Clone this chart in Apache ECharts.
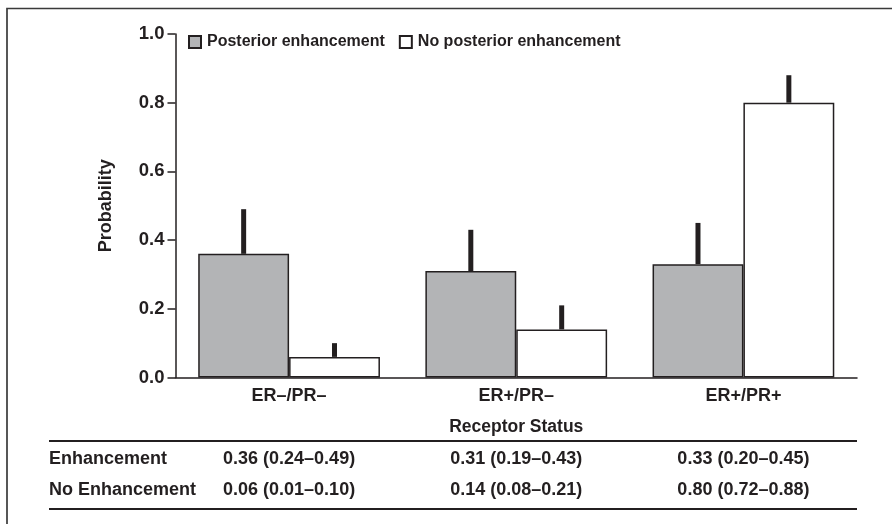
<!DOCTYPE html>
<html>
<head>
<meta charset="utf-8">
<script src="https://cdn.jsdelivr.net/npm/echarts@6/dist/echarts.min.js"></script>
<style>html,body{margin:0;padding:0;background:#fff;}#c{width:892px;height:524px;}</style>
</head>
<body>
<div id="c"></div>
<script>
const categories = ['ER\u2013/PR\u2013', 'ER+/PR\u2013', 'ER+/PR+'];
const seriesNames = ['Posterior enhancement', 'No posterior enhancement'];
const enhValues = [0.36, 0.31, 0.33];
const enhLower = [0.24, 0.19, 0.20];
const enhUpper = [0.49, 0.43, 0.45];
const noEnhValues = [0.06, 0.14, 0.80];
const noEnhLower = [0.01, 0.08, 0.72];
const noEnhUpper = [0.10, 0.21, 0.88];
const rowLabels = ['Enhancement', 'No Enhancement'];
const yTicks = [0, 0.2, 0.4, 0.6, 0.8, 1.0];

const FONT = '"Liberation Sans", Arial, Helvetica, sans-serif';
const INK = '#231f20';
const GRAY = '#b3b4b6';

const chart = echarts.init(document.getElementById('c'), null, {renderer: 'canvas'});

function errSeries(values, upper, sign) {
  return {
    type: 'custom',
    z: 5,
    silent: true,
    data: values.map((v, i) => [i, v, upper[i]]),
    renderItem: function (params, api) {
      const base = api.coord([api.value(0), api.value(1)]);
      const top = api.coord([api.value(0), api.value(2)]);
      const band = api.size([1, 0])[0];
      const cx = base[0] + sign * band * 0.2;
      return {
        type: 'rect',
        shape: {x: cx - 2.5, y: top[1], width: 5, height: base[1] - top[1]},
        style: {fill: INK}
      };
    }
  };
}

const fmt = (v, l, u) => v.toFixed(2) + ' (' + l.toFixed(2) + '\u2013' + u.toFixed(2) + ')';

chart.setOption({
  animation: false,
  textStyle: {fontFamily: FONT},
  grid: {left: 175.5, right: 35, top: 34, bottom: 146.5, containLabel: false},
  legend: {
    left: 183, top: 29,
    itemWidth: 12, itemHeight: 12, itemGap: 14,
    icon: 'rect',
    selectedMode: false,
    data: seriesNames,
    textStyle: {fontFamily: FONT, fontWeight: 'bold', fontSize: 16, color: INK, padding: [0, 0, 0, 1]}
  },
  xAxis: {
    type: 'category',
    data: categories,
    name: 'Receptor Status',
    nameLocation: 'middle',
    nameGap: 41,
    nameTextStyle: {fontFamily: FONT, fontWeight: 'bold', fontSize: 17.5, color: INK},
    axisLine: {lineStyle: {color: INK, width: 1.5}},
    axisTick: {show: false},
    axisLabel: {fontFamily: FONT, fontWeight: 'bold', fontSize: 18, color: INK, margin: 10},
    splitLine: {show: false}
  },
  yAxis: {
    type: 'value',
    min: 0, max: 1.0, interval: 0.2,
    name: 'Probability',
    nameLocation: 'middle',
    nameGap: 60,
    nameRotate: 90,
    nameTextStyle: {fontFamily: FONT, fontWeight: 'bold', fontSize: 18, color: INK},
    axisLine: {show: true, lineStyle: {color: INK, width: 1.5}},
    axisTick: {show: true, length: 8, lineStyle: {color: INK, width: 1.5}},
    axisLabel: {fontFamily: FONT, fontWeight: 'bold', fontSize: 18.5, color: INK, margin: 11,
      formatter: v => v.toFixed(1)},
    splitLine: {show: false}
  },
  series: [
    {
      name: seriesNames[0], type: 'bar', data: enhValues,
      barGap: '0%', barCategoryGap: '20%',
      itemStyle: {color: GRAY, borderColor: INK, borderWidth: 1.5}
    },
    {
      name: seriesNames[1], type: 'bar', data: noEnhValues,
      barGap: '0%', barCategoryGap: '20%',
      itemStyle: {color: '#ffffff', borderColor: INK, borderWidth: 1.5}
    },
    errSeries(enhValues, enhUpper, -1),
    errSeries(noEnhValues, noEnhUpper, 1)
  ]
});

// Table beneath the chart, columns aligned to the category axis
const gx0 = 49, gx1 = 857;
const rowY = [459, 490.5];
const rows = [
  categories.map((c, i) => fmt(enhValues[i], enhLower[i], enhUpper[i])),
  categories.map((c, i) => fmt(noEnhValues[i], noEnhLower[i], noEnhUpper[i]))
];
const g = [
  {type: 'rect', shape: {x: 7, y: 8.5, width: 1000, height: 1000}, style: {fill: 'none', stroke: '#3a3a3a', lineWidth: 1.7}, silent: true},
  {type: 'line', shape: {x1: gx0, y1: 441, x2: gx1, y2: 441}, style: {stroke: INK, lineWidth: 2}},
  {type: 'line', shape: {x1: gx0, y1: 509, x2: gx1, y2: 509}, style: {stroke: INK, lineWidth: 2}}
];
rowLabels.forEach((lab, r) => {
  g.push({type: 'text', x: gx0, y: rowY[r], style: {text: lab, fill: INK, font: 'bold 18px ' + FONT, textAlign: 'left', textVerticalAlign: 'middle'}});
  categories.forEach((c, i) => {
    const px = chart.convertToPixel({xAxisIndex: 0}, i);
    g.push({type: 'text', x: px, y: rowY[r], style: {text: rows[r][i], fill: INK, font: 'bold 18px ' + FONT, textAlign: 'center', textVerticalAlign: 'middle'}});
  });
});
chart.setOption({graphic: g});
</script>
</body>
</html>
